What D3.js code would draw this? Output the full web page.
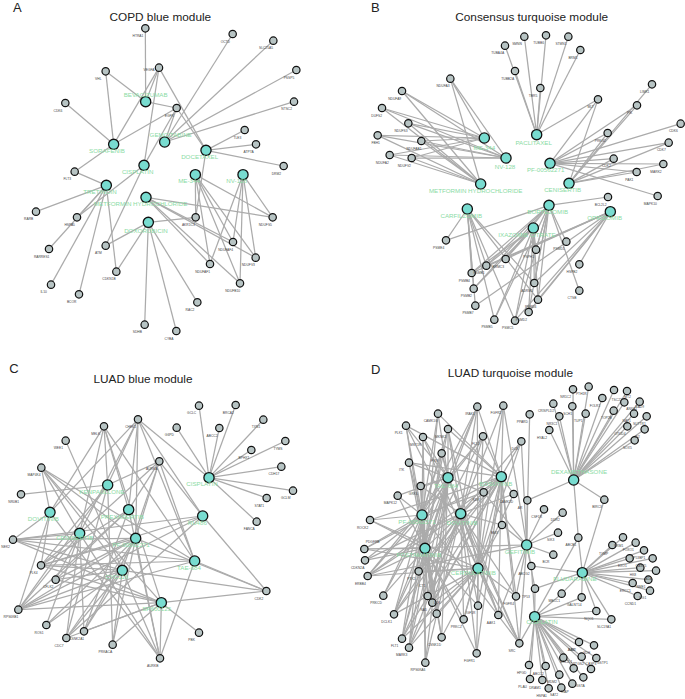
<!DOCTYPE html>
<html>
<head>
<meta charset="utf-8">
<script src="https://cdn.jsdelivr.net/npm/d3@7"></script>
<style>
  html, body { margin: 0; background: #fff; }
  text { font-family: "Liberation Sans", Arial, sans-serif; }
  .edge { stroke: #ababab; stroke-width: 1.25; }
  .gene { fill: #b7c4c4; stroke: #111; stroke-width: 1.2; }
  .drug { fill: #78dcd0; stroke: #111; stroke-width: 1.3; }
  .gene-label { font-size: 3.3px; fill: #444; text-anchor: middle; }
  .drug-label { font-size: 6.2px; fill: #8adba4; text-anchor: middle; }
  .title { font-size: 11.8px; fill: #222; text-anchor: middle; }
  .letter { font-size: 13px; fill: #222; text-anchor: middle; }
</style>
</head>
<body>
<svg id="chart"></svg>
<script>
// Node rows are [name, layoutX, layoutY, labelX, labelY] in the network's layout units
// gene labels left out fall back to the usual spot under the node

// Panel A
const copdDrugs = [
  ["BEVACIZUMAB", 437, 305, 437, 284], ["GEMCITABINE", 494, 426, 512, 405],
  ["SORAFENIB", 341, 433, 321, 452], ["DOCETAXEL", 618, 451, 599, 471],
  ["CISPLATIN", 432, 496, 413, 515], ["ME-344", 586, 524, 567, 543],
  ["NV-128", 729, 524, 710, 543], ["TRETINOIN", 319, 556, 300, 575],
  ["METFORMIN HYDROCHLORIDE", 438, 592, 422, 611], ["DOXORUBICIN", 445, 667, 438, 693]
];
const copdGenes = [
  ["HTRA1", 436, 85], ["OCTD", 698, 102], ["SLC25A5", 820, 122], ["PSSP5", 889, 210],
  ["NTSC2", 882, 305], ["VEGFA", 477, 203, 447, 211], ["VHL", 317, 214], ["CDK6", 196, 309],
  ["EGFR", 530, 324], ["TLE3", 734, 390], ["ATP7A", 768, 433], ["DRM2", 851, 498],
  ["FLT3", 224, 515], ["RARB", 108, 635], ["HSPA5", 231, 652], ["AKR1C3", 587, 652],
  ["NDUFS5", 818, 652], ["NDUFAF4", 699, 726], ["RARRES1", 147, 747], ["ATM", 317, 737],
  ["NDUFV3", 767, 773], ["NDUFAF1", 630, 792], ["CDKN1B", 349, 815], ["NDUFB10", 720, 850],
  ["IL10", 153, 854], ["BCOR", 237, 883], ["RAC2", 592, 907], ["SDHB", 434, 974], ["CYBA", 529, 993]
];
const copdLinks = [
  ["BEVACIZUMAB", ["HTRA1", "VEGFA", "VHL", "EGFR"]],
  ["GEMCITABINE", ["EGFR", "OCTD", "SLC25A5", "PSSP5", "NTSC2"]],
  ["SORAFENIB", ["VEGFA", "VHL", "CDK6", "EGFR", "FLT3"]],
  ["DOCETAXEL", ["VEGFA", "EGFR", "TLE3", "ATP7A", "DRM2", "AKR1C3"]],
  ["CISPLATIN", ["VEGFA", "EGFR", "HSPA5", "ATM"]],
  ["ME-344", ["AKR1C3", "NDUFS5", "NDUFAF4", "NDUFV3", "NDUFAF1", "NDUFB10"]],
  ["NV-128", ["NDUFS5", "NDUFAF4", "NDUFV3", "NDUFAF1", "NDUFB10"]],
  ["TRETINOIN", ["FLT3", "RARB", "HSPA5", "RARRES1", "IL10", "BCOR", "CDKN1B"]],
  ["METFORMIN HYDROCHLORIDE", ["NDUFS5", "NDUFAF4", "NDUFV3", "NDUFAF1", "NDUFB10"]],
  ["DOXORUBICIN", ["AKR1C3", "ATM", "CDKN1B", "SDHB", "CYBA", "RAC2"]]
];

// Panel B
const consensusDrugs = [
  ["ME-344", 418, 414, 418, 443], ["NV-128", 483, 474, 480, 501],
  ["METFORMIN HYDROCHLORIDE", 407, 552, 392, 572], ["PACLITAXEL", 575, 404, 566, 430],
  ["PF-00562271", 615, 490, 602, 511], ["CENISERTIB", 672, 550, 653, 570],
  ["BORTEZOMIB", 612, 616, 608, 636], ["CARFILZOMIB", 367, 627, 349, 647],
  ["OPRIZOMIB", 796, 635, 779, 655], ["IXAZOMIB CITRATE", 565, 684, 546, 705]
];
const consensusGenes = [
  ["TUBA4A", 480, 137], ["SMNN", 538, 110], ["TUBB6", 603, 106], ["STMN1", 670, 110], ["BRM1", 706, 150],
  ["TUBB2A", 510, 213], ["TBR5", 586, 264], ["NDUFA3", 316, 236], ["NDUFA9", 171, 273],
  ["DUFS2", 111, 324, 95, 347], ["NDUFS3", 190, 370], ["FBH1", 98, 406, 92, 428], ["NDUFAB1", 229, 423],
  ["NDUFA2", 134, 465], ["NDUFV2", 200, 474], ["MLT", 759, 298], ["LIMK1", 921, 253], ["PIK", 876, 316],
  ["PRKG2", 788, 399], ["CDK6", 1007, 371], ["CDK7", 971, 428], ["CDK2", 806, 476], ["MARK2", 955, 492],
  ["PAK1", 875, 516], ["MAPK10", 938, 588], ["BCL2L2", 789, 591], ["PSME4", 303, 721],
  ["PSMD1", 664, 725], ["PSPH1", 573, 749], ["BRMC3", 482, 777], ["PSMB1", 424, 797], ["PSMB4", 380, 819],
  ["PSMB2", 386, 866], ["PSMB7", 391, 917], ["PSMB5", 448, 959], ["PSMC5", 510, 962], ["PSMD2", 551, 936],
  ["PSMD4", 579, 899], ["ADRM1", 568, 849], ["HSPB2", 703, 793], ["CTSB", 703, 872]
];
const ndufGroup = ["NDUFA3", "NDUFA9", "DUFS2", "NDUFS3", "FBH1", "NDUFAB1", "NDUFA2", "NDUFV2"];
const consensusLinks = [
  ["ME-344", ndufGroup],
  ["NV-128", ndufGroup],
  ["METFORMIN HYDROCHLORIDE", ndufGroup],
  ["PACLITAXEL", ["TUBA4A", "SMNN", "TUBB6", "STMN1", "BRM1", "TUBB2A", "TBR5", "MLT"]],
  ["PF-00562271", ["MLT", "PIK", "PRKG2", "CDK6", "CDK7", "CDK2", "MARK2", "PAK1", "MAPK10"]],
  ["CENISERTIB", ["MLT", "LIMK1", "PIK", "PRKG2", "CDK7", "CDK2", "MARK2", "PAK1"]],
  ["BORTEZOMIB", ["BCL2L2", "PSME4", "PSMD1", "PSPH1", "BRMC3", "PSMB1", "PSMB4", "PSMB2", "PSMB5", "PSMC5", "PSMD2", "PSMD4", "ADRM1", "CTSB"]],
  ["CARFILZOMIB", ["PSME4", "PSMB1", "PSMB4", "PSMB2", "PSMB7", "PSMB5", "PSMC5", "PSMD4", "ADRM1"]],
  ["OPRIZOMIB", ["BRMC3", "PSMB1", "PSMB4", "PSMB7", "PSMC5", "PSMD2", "PSMD4", "ADRM1", "HSPB2"]],
  ["IXAZOMIB CITRATE", ["PSPH1", "BRMC3", "PSMB1", "PSMB4", "PSMB2", "PSMB5", "PSMC5", "PSMD2", "PSMD4", "ADRM1"]]
];

// Panel C
const luadBlueDrugs = [
  ["KENPAULLONE", 323, 390, 306, 410], ["CISPLATIN", 627, 368, 606, 388],
  ["DOVITINIB", 150, 472, 130, 491], ["PREXASERTIB", 386, 464, 367, 485],
  ["RU486", 608, 483, 592, 503], ["CENISERTIB", 239, 535, 224, 550],
  ["PF-00562271", 407, 550, 393, 570], ["TAE-684", 584, 618, 567, 639],
  ["CYC116", 367, 646, 350, 666], ["SP600125", 484, 743, 470, 763]
];
const luadBlueGenes = [
  ["GCLC", 597, 152], ["BRCA2", 707, 150], ["TXN1", 790, 194], ["TYMS", 856, 258], ["G6PD", 530, 218],
  ["ABCC2", 658, 219], ["BPHX1", 754, 285], ["CDH17", 844, 335], ["GCLM", 879, 407], ["STAT1", 800, 429],
  ["FANCA", 770, 500], ["CHEK1", 414, 193], ["MELK", 312, 214, 287, 236], ["WEE1", 197, 257],
  ["AURKA", 478, 319, 455, 341], ["MAP4K4", 124, 338], ["NR0B1", 63, 418], ["NEK2", 39, 554],
  ["PLK4", 123, 631], ["CFLK2", 167, 674], ["RPS6KB1", 55, 764], ["ROS1", 139, 810], ["CDC7", 199, 849],
  ["CSNK2A1", 252, 829], ["PRKACA", 338, 869], ["PBK", 597, 833], ["AURKB", 480, 910], ["CDK2", 799, 708]
];
const luadBlueLinks = [
  ["KENPAULLONE", ["NR0B1", "CHEK1", "AURKA", "MELK", "CDC7", "PLK4", "RPS6KB1", "PRKACA"]],
  ["CISPLATIN", ["GCLC", "BRCA2", "TXN1", "TYMS", "G6PD", "ABCC2", "BPHX1", "CDH17", "GCLM", "STAT1", "FANCA", "CHEK1"]],
  ["DOVITINIB", ["MELK", "CHEK1", "MAP4K4", "NEK2", "RPS6KB1", "PLK4", "AURKB"]],
  ["PREXASERTIB", ["MELK", "CHEK1", "AURKA", "PLK4", "RPS6KB1", "CSNK2A1", "AURKB", "CFLK2"]],
  ["RU486", ["CHEK1", "AURKA", "NEK2", "PLK4", "RPS6KB1", "CDC7", "CDK2"]],
  ["CENISERTIB", ["MELK", "CHEK1", "AURKA", "MAP4K4", "NEK2", "PLK4", "CFLK2", "RPS6KB1", "ROS1", "CDC7", "CSNK2A1", "AURKB"]],
  ["PF-00562271", ["CHEK1", "AURKA", "MAP4K4", "NEK2", "PLK4", "CFLK2", "RPS6KB1", "CDC7", "CSNK2A1", "PRKACA", "AURKB", "CDK2", "ROS1"]],
  ["TAE-684", ["MELK", "CHEK1", "AURKA", "MAP4K4", "NEK2", "PLK4", "RPS6KB1", "AURKB", "CDK2"]],
  ["CYC116", ["WEE1", "AURKA", "MAP4K4", "NEK2", "PLK4", "CFLK2", "RPS6KB1", "ROS1", "CDC7", "CSNK2A1", "PRKACA", "AURKB", "CDK2"]],
  ["SP600125", ["MELK", "MAP4K4", "NEK2", "PLK4", "CFLK2", "RPS6KB1", "CDC7", "CSNK2A1", "PRKACA", "PBK", "AURKB", "CDK2"]]
];

// Panel D
const luadTurqDrugs = [
  ["TAE-684", 309, 368, 303, 394], ["BOSUTINIB", 469, 365, 452, 386], ["PF-00562271", 231, 480, 216, 501],
  ["DOVITINIB", 347, 476, 351, 503], ["FOSTAMATINIB", 240, 580, 222, 599], ["CERDULATINIB", 399, 640, 385, 654],
  ["GEFITINIB", 545, 570, 525, 590], ["DEXAMETHASONE", 686, 375, 702, 352],
  ["FLUDARABINE", 712, 653, 690, 671], ["CISPLATIN", 569, 785, 591, 802]
];
const luadTurqGenes = [
  ["IRAK1", 397, 155], ["FGFR2", 475, 152], ["CAMK1G", 279, 176], ["PLK1", 183, 212], ["MKNK2", 309, 222],
  ["MST1R", 234, 246], ["FLT4", 414, 244], ["FYN", 290, 295], ["ITK", 192, 323], ["GRK6", 227, 393],
  ["KDR", 416, 412], ["MAPK12", 158, 422], ["CAMK2D", 506, 417], ["ROCK2", 75, 495], ["BMX", 471, 510],
  ["PDGFRB", 58, 582, 83, 560], ["CDKN2A", 60, 616], ["ERBB4", 68, 663], ["PTK2", 221, 649],
  ["ICT1", 262, 743, 231, 693], ["PRKCD", 115, 722], ["NA5", 248, 723, 236, 766], ["LCK", 275, 776, 276, 743],
  ["DCLK1", 147, 778], ["PRKCZ", 356, 793], ["IGF1R", 399, 752], ["FGFR4", 513, 724], ["AAK1", 460, 780],
  ["FLT1", 171, 851], ["MARK3", 192, 878], ["CSNK1D", 290, 847], ["FGFR1", 395, 895], ["RPS6KA6", 241, 923],
  ["SRC", 523, 865], ["DCK", 529, 259, 510, 282], ["PPARD", 554, 178], ["AR", 547, 436], ["CSF1R", 597, 463],
  ["DDR2", 653, 473], ["SIK3", 639, 533], ["BCR", 625, 599], ["ABCG2", 559, 633], ["ABCB1", 700, 548],
  ["BIRC3", 778, 434], ["TP53", 570, 701, 543, 727],
  ["NR1C2", 684, 103], ["PTH1R", 731, 95], ["CRISPLD2", 625, 146], ["NR3C1", 643, 184], ["TUP1", 722, 176],
  ["HYAL2", 613, 225], ["SCH1", 682, 154, 668, 177], ["FOLR1", 772, 129],
  ["TSC22", 807, 105, 815, 136], ["MT2", 846, 108, 848, 125], ["ANXA1", 838, 142, 860, 163], ["RAD9", 884, 140, 884, 155],
  ["TOP2B", 806, 167], ["NAT1", 867, 176], ["SUTTR1", 905, 184], ["OTUD4", 847, 214], ["ID2", 899, 223], ["SOX5", 869, 256],
  ["TYMP", 802, 570, 776, 597], ["RRM1", 834, 547, 821, 572], ["FOXO1", 872, 563], ["TP53BP1", 854, 610, 880, 609],
  ["EXO1", 897, 586, 832, 632], ["CASP5", 923, 610, 888, 633], ["HK8", 886, 638, 864, 661], ["ADA", 933, 647, 911, 672],
  ["NME1", 910, 674, 888, 697], ["ERCC1", 863, 684, 841, 707], ["LIG1", 915, 707, 893, 730], ["CCND1", 878, 723, 856, 746],
  ["GALNT14", 710, 727], ["MBCC1", 650, 716], ["NQO1", 754, 768], ["SLC19A1", 799, 793],
  ["BAX", 702, 861], ["XDH", 747, 871], ["JUN2", 655, 908, 680, 885], ["GSTP1", 754, 909, 772, 925], ["PTGS2", 710, 905, 700, 928], ["BCL2L1", 686, 940, 664, 922],
  ["CASP3", 738, 942, 738, 928], ["MDM2", 643, 959], ["GSTA", 715, 967, 706, 992], ["HPGD", 552, 930], ["ABCC2", 602, 933],
  ["PLAU", 555, 972], ["DRAM1", 592, 975], ["HSPA1", 611, 1000, 590, 1023], ["SAT2", 649, 998, 627, 1020], ["XIAP", 682, 986, 660, 1010]
];
const turqMeshA = ["IRAK1", "CAMK1G", "PLK1", "MKNK2", "MST1R", "FLT4", "FYN", "ITK", "GRK6", "MAPK12", "KDR", "PTK2", "ICT1", "LCK", "NA5", "FLT1", "MARK3", "PRKCD", "RPS6KA6", "CSNK1D"];
const turqMeshB = ["IRAK1", "FGFR2", "MKNK2", "FLT4", "KDR", "CAMK2D", "BMX", "DCK", "FGFR1", "PRKCZ", "IGF1R", "FGFR4", "AAK1", "SRC", "PTK2", "ICT1", "FLT1", "MARK3", "DCLK1", "ERBB4"];
const luadTurqLinks = [
  ["TAE-684", turqMeshA.concat(["SRC", "AAK1", "ERBB4", "DCLK1"])],
  ["BOSUTINIB", turqMeshB.concat(["PLK1", "CAMK1G", "ROCK2", "PDGFRB", "ITK"])],
  ["PF-00562271", turqMeshA.concat(["ROCK2", "PDGFRB", "CDKN2A", "ERBB4", "DCLK1", "SRC"])],
  ["DOVITINIB", turqMeshB.concat(["FYN", "GRK6", "CDKN2A", "NA5", "RPS6KA6"])],
  ["FOSTAMATINIB", turqMeshA.concat(["ROCK2", "PDGFRB", "CDKN2A", "ERBB4", "DCLK1", "PRKCZ", "IGF1R", "FGFR1"])],
  ["CERDULATINIB", turqMeshB.concat(["MST1R", "PLK1", "ROCK2", "PDGFRB", "CSNK1D", "LCK"])],
  ["GEFITINIB", ["PPARD", "AR", "CSF1R", "DDR2", "SIK3", "BCR", "ABCG2", "TP53", "SRC", "FGFR4", "KDR", "ERBB4", "PDGFRB", "FGFR2", "AAK1", "BMX", "DCK"]],
  ["DEXAMETHASONE", ["NR1C2", "PTH1R", "CRISPLD2", "SCH1", "TUP1", "NR3C1", "HYAL2", "FOLR1", "TSC22", "MT2", "ANXA1", "RAD9", "TOP2B", "NAT1", "SUTTR1", "OTUD4", "ID2", "SOX5", "AR", "BIRC3", "ABCB1"]],
  ["FLUDARABINE", ["ABCB1", "BIRC3", "ABCG2", "TP53", "GALNT14", "MBCC1", "NQO1", "SLC19A1", "TYMP", "RRM1", "FOXO1", "TP53BP1", "EXO1", "CASP5", "HK8", "ADA", "NME1", "ERCC1", "LIG1", "CCND1"]],
  ["CISPLATIN", ["ABCB1", "ABCG2", "TP53", "GALNT14", "MBCC1", "NQO1", "SLC19A1", "SRC", "BAX", "XDH", "JUN2", "GSTP1", "PTGS2", "BCL2L1", "CASP3", "MDM2", "GSTA", "HPGD", "ABCC2", "PLAU", "DRAM1", "HSPA1", "SAT2", "XIAP"]]
];

const titles = ["COPD  blue module", "Consensus turquoise module", "LUAD  blue module", "LUAD  turquoise module"];
const letters = ["A", "B", "C", "D"];

const width = 685;
const height = 699;
const geneR = 3.7;
const drugR = 5.1;

const chart = d3.select("#chart").attr("width", width).attr("height", height);

// layout units are 3 to a pixel
function makeNetwork(cfg) {
  const xScale = d3.scaleLinear().domain([0, 1020]).range([cfg.x, cfg.x + 340]);
  const yScale = d3.scaleLinear().domain([0, 1035]).range([cfg.y, cfg.y + 345]);

  const g = chart.append("g");
  const pos = new Map();
  cfg.drugs.concat(cfg.genes).forEach(d => pos.set(d[0], d));

  const edges = cfg.links.flatMap(l => l[1].map(gene => ({ source: pos.get(l[0]), target: pos.get(gene) })));

  g.selectAll("line")
    .data(edges)
    .enter()
    .append("line")
    .attr("class", "edge")
    .attr("x1", d => xScale(d.source[1]))
    .attr("y1", d => yScale(d.source[2]))
    .attr("x2", d => xScale(d.target[1]))
    .attr("y2", d => yScale(d.target[2]));

  g.selectAll("circle.gene")
    .data(cfg.genes)
    .enter()
    .append("circle")
    .attr("class", "gene")
    .attr("cx", d => xScale(d[1]))
    .attr("cy", d => yScale(d[2]))
    .attr("r", geneR);

  g.selectAll("circle.drug")
    .data(cfg.drugs)
    .enter()
    .append("circle")
    .attr("class", "drug")
    .attr("cx", d => xScale(d[1]))
    .attr("cy", d => yScale(d[2]))
    .attr("r", drugR);

  g.selectAll("text.gene-label")
    .data(cfg.genes)
    .enter()
    .append("text")
    .attr("class", "gene-label")
    .attr("x", d => xScale(d[3] !== undefined ? d[3] : d[1] - 22))
    .attr("y", d => yScale((d[4] !== undefined ? d[4] : d[2] + 23) + 3))
    .text(d => d[0]);

  g.selectAll("text.drug-label")
    .data(cfg.drugs)
    .enter()
    .append("text")
    .attr("class", "drug-label")
    .attr("x", d => xScale(d[3]))
    .attr("y", d => yScale(d[4] + 6))
    .text(d => d[0]);

  g.append("text").attr("class", "title").attr("x", xScale(cfg.titleX)).attr("y", yScale(cfg.titleY + 12)).text(cfg.title);
  g.append("text").attr("class", "letter").attr("x", xScale(cfg.letterX)).attr("y", yScale(cfg.letterY + 14)).text(cfg.letter);
}

makeNetwork({ x: 0, y: 0, drugs: copdDrugs, genes: copdGenes, links: copdLinks, title: titles[0], titleX: 481, titleY: 50, letter: letters[0], letterX: 52, letterY: 22 });
makeNetwork({ x: 345, y: 0, drugs: consensusDrugs, genes: consensusGenes, links: consensusLinks, title: titles[1], titleX: 560, titleY: 50, letter: letters[1], letterX: 91, letterY: 22 });
makeNetwork({ x: 0, y: 355, drugs: luadBlueDrugs, genes: luadBlueGenes, links: luadBlueLinks, title: titles[2], titleX: 429, titleY: 73, letter: letters[2], letterX: 42, letterY: 41 });
makeNetwork({ x: 345, y: 355, drugs: luadTurqDrugs, genes: luadTurqGenes, links: luadTurqLinks, title: titles[3], titleX: 496, titleY: 55, letter: letters[3], letterX: 92, letterY: 42 });
</script>
</body>
</html>
